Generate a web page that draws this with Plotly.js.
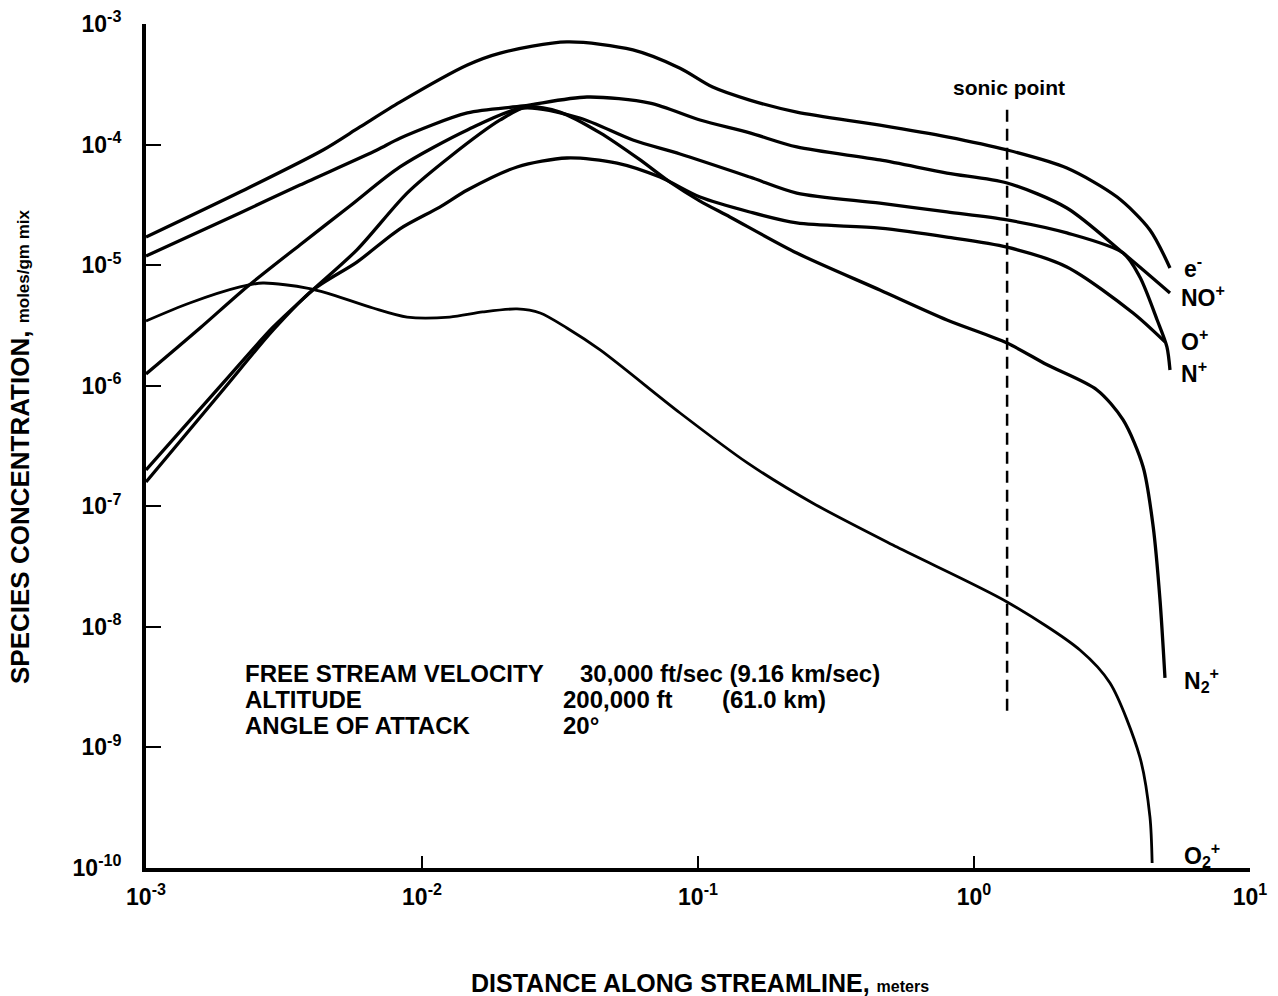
<!DOCTYPE html>
<html>
<head>
<meta charset="utf-8">
<script src="https://cdn.plot.ly/plotly-3.0.1.min.js"></script>
<style>html,body{margin:0;padding:0;background:#fff;}</style>
</head>
<body>
<div id="chart" style="width:1278px;height:996px;"></div>
<script>
// ---- data ----
const xElectron = [0.001, 0.00219, 0.00438, 0.00596, 0.00832, 0.0146, 0.0192, 0.0335, 0.0581, 0.0861, 0.113, 0.154, 0.228, 0.456, 0.798, 1.318, 2.17, 3.30, 4.34, 5.13];
const yElectron = [1.71e-5, 4.04e-5, 9.02e-5, 1.40e-4, 2.25e-4, 4.57e-4, 5.74e-4, 7.1e-4, 6.1e-4, 4.3e-4, 3.0e-4, 2.34e-4, 1.86e-4, 1.45e-4, 1.16e-4, 9.02e-5, 6.39e-5, 3.67e-5, 1.96e-5, 9.47e-6];

const xNOp = [0.001, 0.00219, 0.00361, 0.00687, 0.00832, 0.0146, 0.0232, 0.0396, 0.067, 0.1017, 0.154, 0.228, 0.456, 0.798, 1.318, 2.17, 3.47, 5.13];
const yNOp = [1.19e-5, 2.71e-5, 4.62e-5, 9.02e-5, 1.13e-4, 1.83e-4, 2.09e-4, 2.48e-4, 2.21e-4, 1.60e-4, 1.25e-4, 9.55e-5, 7.45e-5, 5.81e-5, 4.80e-5, 2.98e-5, 1.26e-5, 5.87e-6];

const xNp = [0.001, 0.00157, 0.00232, 0.00361, 0.00548, 0.00832, 0.0146, 0.0232, 0.0373, 0.0581, 0.0861, 0.154, 0.228, 0.456, 0.798, 1.318, 2.17, 3.47, 3.99, 4.61, 5.00, 5.13];
const yNp = [1.25e-6, 3.01e-6, 6.59e-6, 1.47e-5, 3.09e-5, 6.52e-5, 1.32e-4, 2.01e-4, 1.66e-4, 1.09e-4, 8.35e-5, 5.38e-5, 3.96e-5, 3.27e-5, 2.76e-5, 2.37e-5, 1.85e-5, 1.26e-5, 7.97e-6, 3.51e-6, 2.10e-6, 1.35e-6];

const xOp = [0.001, 0.0019, 0.00289, 0.00402, 0.00581, 0.00832, 0.0116, 0.0146, 0.0221, 0.0335, 0.0509, 0.0728, 0.1017, 0.154, 0.228, 0.456, 0.798, 1.318, 2.17, 3.77, 4.92];
const yOp = [1.59e-7, 9.22e-7, 2.90e-6, 6.22e-6, 1.06e-5, 2.0e-5, 3.03e-5, 4.20e-5, 6.52e-5, 7.74e-5, 7.03e-5, 5.38e-5, 3.67e-5, 2.76e-5, 2.24e-5, 2.03e-5, 1.71e-5, 1.41e-5, 9.66e-6, 4.01e-6, 2.31e-6];

const xN2p = [0.001, 0.0019, 0.00289, 0.00402, 0.00581, 0.00883, 0.0126, 0.0192, 0.0240, 0.0316, 0.0442, 0.0610, 0.0800, 0.1017, 0.1305, 0.228, 0.456, 0.798, 1.318, 1.84, 2.79, 3.47, 4.10, 4.46, 4.72, 4.92];
const yN2p = [2.0e-7, 1.05e-6, 3.07e-6, 6.22e-6, 1.34e-5, 3.96e-5, 7.89e-5, 1.60e-4, 2.05e-4, 1.86e-4, 1.25e-4, 7.6e-5, 4.8e-5, 3.4e-5, 2.51e-5, 1.26e-5, 6.22e-6, 3.51e-6, 2.26e-6, 1.49e-6, 9.22e-7, 5.20e-7, 2.12e-7, 6.73e-8, 1.67e-8, 3.77e-9];

const xO2p = [0.001, 0.00144, 0.00219, 0.00265, 0.00383, 0.00453, 0.00664, 0.00883, 0.0126, 0.0166, 0.0221, 0.0268, 0.0335, 0.0442, 0.0861, 0.151, 0.261, 0.526, 1.318, 2.42, 3.11, 3.99, 4.34, 4.42];
const yO2p = [3.44e-6, 4.85e-6, 6.59e-6, 7.11e-6, 6.46e-6, 5.87e-6, 4.41e-6, 3.71e-6, 3.71e-6, 4.09e-6, 4.33e-6, 4.01e-6, 3.01e-6, 1.98e-6, 5.94e-7, 2.29e-7, 1.06e-7, 4.59e-8, 1.61e-8, 6.43e-9, 3.42e-9, 8.32e-10, 2.65e-10, 1.10e-10];

const sonicX = [1.318, 1.318];
const sonicY = [1.94e-4, 1.86e-9];

const xTickVals = [0.001, 0.01, 0.1, 1, 10];
const xTickText = ['10<sup>-3</sup>', '10<sup>-2</sup>', '10<sup>-1</sup>', '10<sup>0</sup>', '10<sup>1</sup>'];
const yTickVals = [1e-3, 1e-4, 1e-5, 1e-6, 1e-7, 1e-8, 1e-9, 1e-10];
const yTickText = ['10<sup>-3</sup>', '10<sup>-4</sup>', '10<sup>-5</sup>', '10<sup>-6</sup>', '10<sup>-7</sup>', '10<sup>-8</sup>', '10<sup>-9</sup>', '10<sup>-10</sup>'];

const speciesLabels = ['e<sup>-</sup>', 'NO<sup>+</sup>', 'O<sup>+</sup>', 'N<sup>+</sup>', 'N<sub>2</sub><sup>+</sup>', 'O<sub>2</sub><sup>+</sup>'];

// ---- figure ----
const FONT = 'Liberation Sans, Arial, sans-serif';
function curve(x, y, w) {
  return {x: x, y: y, type: 'scatter', mode: 'lines',
          line: {color: '#000', width: w || 3.3, shape: 'spline', smoothing: 0.8},
          hoverinfo: 'skip'};
}
const traces = [
  curve(xElectron, yElectron),
  curve(xNOp, yNOp),
  curve(xNp, yNp),
  curve(xOp, yOp),
  curve(xN2p, yN2p),
  curve(xO2p, yO2p, 2.8),
  {x: sonicX, y: sonicY, type: 'scatter', mode: 'lines',
   line: {color: '#000', width: 2.5, dash: '12px,7px'}, hoverinfo: 'skip'}
];

function txt(text, x, y, size, xanchor, extra) {
  return Object.assign({text: text, x: x, y: y, xref: 'paper', yref: 'paper',
    showarrow: false, xanchor: xanchor || 'left', yanchor: 'middle',
    font: {family: FONT, size: size, color: '#000', weight: 'bold'}}, extra || {});
}
const labelY = [0.7121, 0.6777, 0.6256, 0.5877, 0.2227, 0.0154];
const labelX = [0.9384, 0.9357, 0.9357, 0.9357, 0.9384, 0.9384];
const annotations = speciesLabels.map((s, i) => txt(s, labelX[i], labelY[i], 23));
annotations.push(
  txt('sonic point', 0.7817, 0.9242, 21, 'center'),
  txt('FREE STREAM VELOCITY', 0.0879, 0.2310, 24),
  txt('ALTITUDE', 0.0879, 0.2002, 24),
  txt('ANGLE OF ATTACK', 0.0879, 0.1694, 24),
  txt('30,000 ft/sec (9.16 km/sec)', 0.3913, 0.2310, 24),
  txt('200,000 ft', 0.3759, 0.2002, 24),
  txt('(61.0 km)', 0.5199, 0.2002, 24),
  txt('20°', 0.3759, 0.1694, 24),
  txt('DISTANCE ALONG STREAMLINE, <span style="font-size:16px">meters</span>', 0.5018, -0.1363, 25, 'center'),
  txt('SPECIES CONCENTRATION, <span style="font-size:17px">moles/gm mix</span>', -0.1141, 0.4988, 26, 'center', {textangle: -90})
);

const layout = {
  width: 1278, height: 996,
  margin: {l: 146, r: 28, t: 24, b: 128, pad: 0},
  paper_bgcolor: '#fff', plot_bgcolor: '#fff',
  showlegend: false,
  xaxis: {type: 'log', range: [-3, 1], showgrid: false, zeroline: false,
          showline: true, linecolor: '#000', linewidth: 4,
          ticks: 'inside', ticklen: 12, tickwidth: 2, tickcolor: '#000',
          tickvals: xTickVals, ticktext: xTickText,
          tickfont: {family: FONT, size: 23, color: '#000', weight: 'bold'},
          ticklabelstandoff: 5, automargin: false},
  yaxis: {type: 'log', range: [-10, -3], showgrid: false, zeroline: false,
          showline: true, linecolor: '#000', linewidth: 4,
          ticks: 'inside', ticklen: 15, tickwidth: 2, tickcolor: '#000',
          tickvals: yTickVals, ticktext: yTickText,
          tickfont: {family: FONT, size: 23, color: '#000', weight: 'bold'},
          ticklabelstandoff: 16, automargin: false},
  annotations: annotations
};

Plotly.newPlot('chart', traces, layout, {staticPlot: true, displayModeBar: false});
</script>
</body>
</html>
